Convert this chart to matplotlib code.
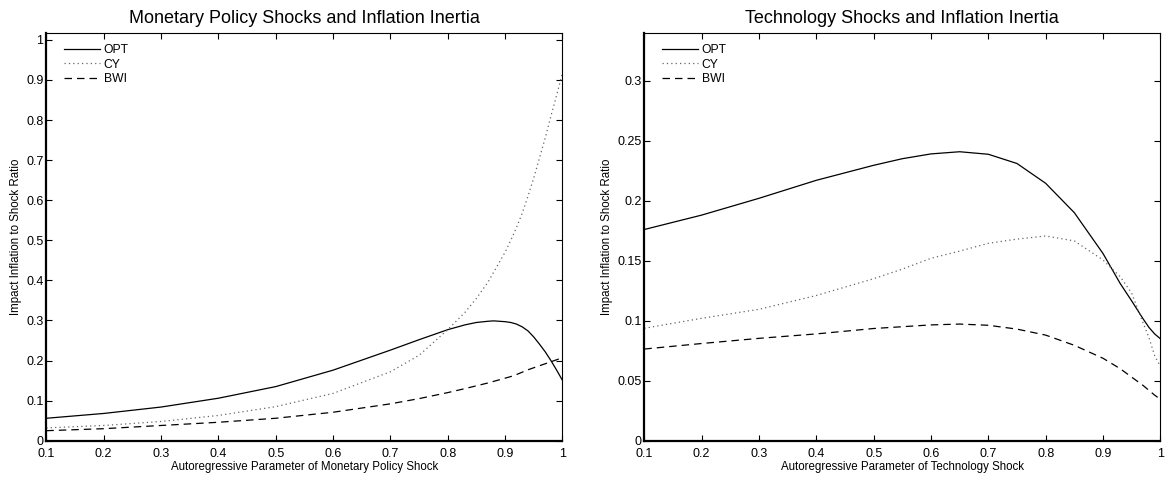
import matplotlib
matplotlib.use("Agg")
import matplotlib.pyplot as plt

plt.rcParams['font.family'] = ['Liberation Sans', 'DejaVu Sans']

# monetary policy shock panel
x_mp = [0.1, 0.2, 0.3, 0.4, 0.5, 0.6, 0.7, 0.75, 0.8, 0.83, 0.85, 0.87, 0.88, 0.9, 0.91, 0.92,
        0.93, 0.94, 0.95, 0.96, 0.97, 0.98, 0.99, 1.0]
opt_mp = [0.056, 0.068, 0.084, 0.106, 0.135, 0.176, 0.226, 0.252, 0.277, 0.289, 0.295, 0.298,
          0.299, 0.297, 0.295, 0.291, 0.284, 0.274, 0.259, 0.241, 0.222, 0.2, 0.176, 0.151]
cy_mp = [0.032, 0.038, 0.048, 0.063, 0.085, 0.118, 0.172, 0.213, 0.277, 0.32, 0.355, 0.395,
         0.42, 0.47, 0.5, 0.532, 0.568, 0.61, 0.655, 0.705, 0.755, 0.81, 0.862, 0.917]
bwi_mp = [0.025, 0.03, 0.038, 0.046, 0.056, 0.071, 0.092, 0.105, 0.12, 0.13, 0.137, 0.144,
          0.148, 0.156, 0.16, 0.165, 0.171, 0.177, 0.182, 0.187, 0.192, 0.197, 0.202, 0.207]

# technology shock panel
x_tech = [0.1, 0.2, 0.3, 0.4, 0.5, 0.55, 0.6, 0.65, 0.7, 0.75, 0.8, 0.85, 0.9, 0.93, 0.95,
          0.97, 0.98, 0.99, 1.0]
opt_tech = [0.176, 0.188, 0.202, 0.217, 0.2295, 0.235, 0.239, 0.2408, 0.2387, 0.231, 0.2145,
            0.19, 0.156, 0.131, 0.1165, 0.1015, 0.0945, 0.089, 0.085]
cy_tech = [0.0937, 0.102, 0.1095, 0.121, 0.135, 0.143, 0.152, 0.158, 0.1645, 0.168, 0.1706,
           0.1665, 0.1506, 0.1367, 0.123, 0.098, 0.086, 0.071, 0.062]
bwi_tech = [0.0764, 0.081, 0.0853, 0.089, 0.0935, 0.095, 0.0965, 0.0972, 0.0962, 0.093, 0.088,
            0.0795, 0.0687, 0.06, 0.053, 0.046, 0.042, 0.038, 0.0345]

labels = ['OPT', 'CY', 'BWI']
xticks = [0.1, 0.2, 0.3, 0.4, 0.5, 0.6, 0.7, 0.8, 0.9, 1]
xticklabels = ['0.1', '0.2', '0.3', '0.4', '0.5', '0.6', '0.7', '0.8', '0.9', '1']
yticks_mp = [0, 0.1, 0.2, 0.3, 0.4, 0.5, 0.6, 0.7, 0.8, 0.9, 1]
yticklabels_mp = ['0', '0.1', '0.2', '0.3', '0.4', '0.5', '0.6', '0.7', '0.8', '0.9', '1']
yticks_tech = [0, 0.05, 0.1, 0.15, 0.2, 0.25, 0.3]
yticklabels_tech = ['0', '0.05', '0.1', '0.15', '0.2', '0.25', '0.3']

fig = plt.figure(figsize=(11.67, 4.78), dpi=100)
ax1 = fig.add_axes([0.0397, 0.078, 0.4422, 0.8536])
ax2 = fig.add_axes([0.5521, 0.078, 0.4422, 0.8536])


def panel(ax, x, opt, cy, bwi, ymax, yt, ytl, title, xlabel):
    ax.plot(x, opt, color='black', lw=0.9, ls='-', label=labels[0])
    ax.plot(x, cy, color='0.4', lw=0.9, ls=(0, (1, 2.5)), label=labels[1])
    ax.plot(x, bwi, color='black', lw=0.9, ls=(0, (6, 4)), label=labels[2])
    ax.set_xlim(0.1, 1)
    ax.set_ylim(0, ymax)
    ax.set_xticks(xticks)
    ax.set_xticklabels(xticklabels)
    ax.set_yticks(yt)
    ax.set_yticklabels(ytl)
    ax.tick_params(direction='in', top=True, right=True, labelsize=9, length=4, width=0.8)
    ax.tick_params(axis='x', pad=5)
    ax.tick_params(axis='y', pad=2)
    for side in ['left', 'bottom']:
        ax.spines[side].set_linewidth(1.6)
    for side in ['top', 'right']:
        ax.spines[side].set_linewidth(0.8)
    ax.set_title(title, fontsize=13, pad=7)
    ax.set_xlabel(xlabel, fontsize=8.3, labelpad=1)
    ax.set_ylabel('Impact Inflation to Shock Ratio', fontsize=8.3, labelpad=3)
    ax.legend(loc='upper left', bbox_to_anchor=(0.02, 0.99), frameon=False, fontsize=8.7,
              handlelength=3.0, handletextpad=0.3, labelspacing=0.22, borderaxespad=0.2)


panel(ax1, x_mp, opt_mp, cy_mp, bwi_mp, 1.018, yticks_mp, yticklabels_mp,
      'Monetary Policy Shocks and Inflation Inertia',
      'Autoregressive Parameter of Monetary Policy Shock')
panel(ax2, x_tech, opt_tech, cy_tech, bwi_tech, 0.34, yticks_tech, yticklabels_tech,
      'Technology Shocks and Inflation Inertia',
      'Autoregressive Parameter of Technology Shock')

fig.savefig('out.png', dpi=100)
